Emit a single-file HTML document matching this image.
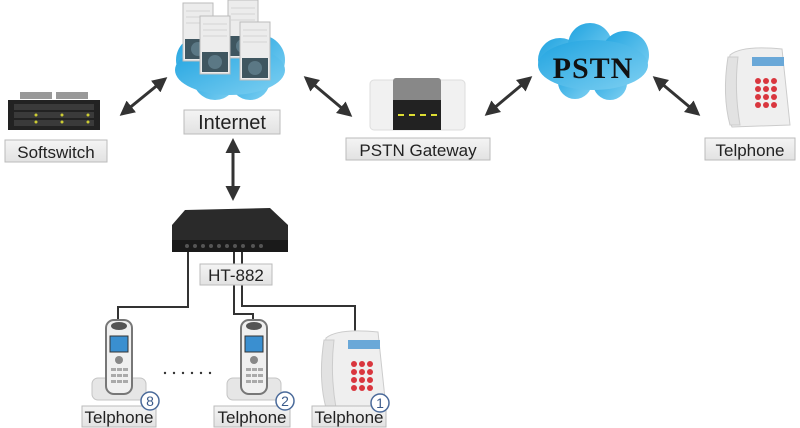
<!DOCTYPE html>
<html><head><meta charset="utf-8"><style>
html,body{margin:0;padding:0;background:#fff;width:800px;height:428px;overflow:hidden}
svg{display:block}
.lb{font-family:"Liberation Sans",sans-serif;font-size:17px;fill:#222}
</style></head><body>
<svg width="800" height="428" viewBox="0 0 800 428" xmlns="http://www.w3.org/2000/svg">
<defs>
<marker id="ah" viewBox="0 0 10 10" refX="8" refY="5" markerWidth="5" markerHeight="5" orient="auto-start-reverse"><path d="M0,0 L10,5 L0,10 z" fill="#333"/></marker>
<linearGradient id="lab" x1="0" y1="0" x2="0" y2="1"><stop offset="0" stop-color="#f4f4f4"/><stop offset="1" stop-color="#e2e2e2"/></linearGradient>
<linearGradient id="cl" x1="0" y1="0" x2="1" y2="1"><stop offset="0" stop-color="#1fa3e0"/><stop offset="1" stop-color="#7fd0f2"/></linearGradient>
<g id="hs">
<ellipse cx="22" cy="70" rx="27" ry="10" fill="#ddd" stroke="#bbb"/>
<rect x="-5" y="58" width="54" height="22" rx="6" fill="#e6e6e6" stroke="#c4c4c4"/>
<rect x="9" y="0" width="26" height="74" rx="8" fill="#f0f0f0" stroke="#777" stroke-width="2"/>
<ellipse cx="22" cy="6" rx="8" ry="4" fill="#555"/>
<rect x="13" y="16" width="18" height="16" fill="#3a8fd0" stroke="#333"/>
<circle cx="22" cy="40" r="4" fill="#888"/>
<g fill="#aaa"><rect x="14" y="48" width="5" height="3"/><rect x="20" y="48" width="5" height="3"/><rect x="26" y="48" width="5" height="3"/><rect x="14" y="54" width="5" height="3"/><rect x="20" y="54" width="5" height="3"/><rect x="26" y="54" width="5" height="3"/><rect x="14" y="60" width="5" height="3"/><rect x="20" y="60" width="5" height="3"/><rect x="26" y="60" width="5" height="3"/></g>
</g>
<g id="desk">
<path d="M8,10 Q20,0 60,4 L68,80 L10,82 Q0,60 8,10z" fill="#efefef" stroke="#ccc"/>
<path d="M6,12 Q0,50 8,80 L18,80 Q12,45 16,12z" fill="#e2e2e2" stroke="#ccc"/>
<rect x="30" y="12" width="32" height="9" fill="#6aa8d8"/>
<g fill="#d9363e"><circle cx="36" cy="36" r="3"/><circle cx="44" cy="36" r="3"/><circle cx="52" cy="36" r="3"/><circle cx="36" cy="44" r="3"/><circle cx="44" cy="44" r="3"/><circle cx="52" cy="44" r="3"/><circle cx="36" cy="52" r="3"/><circle cx="44" cy="52" r="3"/><circle cx="52" cy="52" r="3"/><circle cx="36" cy="60" r="3"/><circle cx="44" cy="60" r="3"/><circle cx="52" cy="60" r="3"/></g>
</g>
<g id="srv">
<rect x="0" y="0" width="30" height="58" fill="#ececec" stroke="#bbb"/>
<g stroke="#d4d4d4"><line x1="3" y1="8" x2="27" y2="8"/><line x1="3" y1="14" x2="27" y2="14"/><line x1="3" y1="20" x2="27" y2="20"/></g>
<rect x="2" y="36" width="26" height="20" fill="#3f5660"/>
<circle cx="15" cy="46" r="7" fill="#5b7885"/>
</g>
</defs>

<g stroke="#333" stroke-width="3" marker-start="url(#ah)" marker-end="url(#ah)">
<line x1="122" y1="114" x2="165" y2="79"/>
<line x1="306" y1="78" x2="350" y2="115"/>
<line x1="233" y1="141" x2="233" y2="198"/>
<line x1="487" y1="114" x2="530" y2="78"/>
<line x1="655" y1="78" x2="698" y2="114"/>
</g>

<g fill="url(#cl)">
<circle cx="200" cy="60" r="24"/><circle cx="230" cy="45" r="28"/><circle cx="260" cy="60" r="25"/>
<circle cx="215" cy="78" r="22"/><circle cx="250" cy="80" r="20"/><ellipse cx="230" cy="70" rx="55" ry="25"/>
</g>
<use href="#srv" x="183" y="3"/>
<use href="#srv" x="228" y="0"/>
<use href="#srv" x="200" y="16"/>
<use href="#srv" x="240" y="22"/>
<rect x="184" y="110" width="96" height="24" fill="url(#lab)" stroke="#bbb"/>
<text x="232" y="129" class="lb" text-anchor="middle" style="font-size:20px">Internet</text>

<rect x="20" y="92" width="32" height="7" fill="#999"/><rect x="56" y="92" width="32" height="7" fill="#999"/>
<rect x="8" y="100" width="92" height="30" fill="#222"/>
<g fill="#3a3a3a"><rect x="14" y="104" width="80" height="6"/><rect x="14" y="112" width="80" height="6"/><rect x="14" y="120" width="80" height="6"/></g>
<g fill="#cc3"><circle cx="36" cy="115" r="1.5"/><circle cx="62" cy="115" r="1.5"/><circle cx="88" cy="115" r="1.5"/><circle cx="36" cy="122" r="1.5"/><circle cx="62" cy="122" r="1.5"/><circle cx="88" cy="122" r="1.5"/></g>
<rect x="5" y="140" width="102" height="22" fill="url(#lab)" stroke="#bbb"/>
<text x="56" y="158" class="lb" text-anchor="middle">Softswitch</text>

<rect x="370" y="80" width="95" height="50" rx="4" fill="#f1f1f1" stroke="#ddd"/>
<rect x="393" y="78" width="48" height="52" rx="3" fill="#888"/>
<rect x="393" y="100" width="48" height="30" fill="#222"/>
<g fill="#dd3"><rect x="398" y="114" width="6" height="2"/><rect x="409" y="114" width="6" height="2"/><rect x="420" y="114" width="6" height="2"/><rect x="431" y="114" width="6" height="2"/></g>
<rect x="346" y="138" width="144" height="22" fill="url(#lab)" stroke="#bbb"/>
<text x="418" y="156" class="lb" text-anchor="middle">PSTN Gateway</text>

<g fill="url(#cl)">
<circle cx="560" cy="60" r="22"/><circle cx="590" cy="45" r="22"/><circle cx="625" cy="55" r="24"/>
<circle cx="575" cy="82" r="17"/><circle cx="610" cy="83" r="17"/><ellipse cx="593" cy="65" rx="55" ry="25"/>
</g>
<text x="593" y="78" text-anchor="middle" font-family="Liberation Serif,serif" font-weight="bold" font-size="30" fill="#111" letter-spacing="1">PSTN</text>

<use href="#desk" x="722" y="45"/>
<rect x="705" y="138" width="90" height="22" fill="url(#lab)" stroke="#bbb"/>
<text x="750" y="156" class="lb" text-anchor="middle">Telphone</text>

<path d="M185,210 L270,208 L288,225 L288,252 L172,252 L172,225z" fill="#2a2a2a"/>
<rect x="172" y="240" width="116" height="12" fill="#1a1a1a"/>
<g fill="#555"><circle cx="187" cy="246" r="2"/><circle cx="195" cy="246" r="2"/><circle cx="203" cy="246" r="2"/><circle cx="211" cy="246" r="2"/><circle cx="219" cy="246" r="2"/><circle cx="227" cy="246" r="2"/><circle cx="235" cy="246" r="2"/><circle cx="243" cy="246" r="2"/><circle cx="253" cy="246" r="2"/><circle cx="261" cy="246" r="2"/></g>
<g fill="none" stroke="#333" stroke-width="2">
<path d="M188,252 V307 H118 V322"/>
<path d="M234,252 V314 H253 V322"/>
<path d="M242,252 V306 H355 V332"/>
</g>
<rect x="200" y="264" width="72" height="21" fill="url(#lab)" stroke="#bbb"/>
<text x="236" y="281" class="lb" text-anchor="middle">HT-882</text>

<use href="#hs" x="97" y="320"/>
<use href="#hs" x="232" y="320"/>
<use href="#desk" x="318" y="328"/>
<g fill="#333"><circle cx="165" cy="373" r="1.2"/><circle cx="174" cy="373" r="1.2"/><circle cx="183" cy="373" r="1.2"/><circle cx="192" cy="373" r="1.2"/><circle cx="201" cy="373" r="1.2"/><circle cx="210" cy="373" r="1.2"/></g>

<rect x="82" y="406" width="74" height="21" fill="url(#lab)" stroke="#bbb"/>
<text x="119" y="423" class="lb" text-anchor="middle">Telphone</text>
<rect x="214" y="406" width="76" height="21" fill="url(#lab)" stroke="#bbb"/>
<text x="252" y="423" class="lb" text-anchor="middle">Telphone</text>
<rect x="312" y="406" width="74" height="21" fill="url(#lab)" stroke="#bbb"/>
<text x="349" y="423" class="lb" text-anchor="middle">Telphone</text>

<g fill="#fff" stroke="#4a6a9a" stroke-width="1.5"><circle cx="150" cy="401" r="9"/><circle cx="285" cy="401" r="9"/><circle cx="380" cy="403" r="9"/></g>
<g font-family="Liberation Sans,sans-serif" font-size="14" fill="#3a5a8a" text-anchor="middle"><text x="150" y="406">8</text><text x="285" y="406">2</text><text x="380" y="408">1</text></g>
</svg>
</body></html>
